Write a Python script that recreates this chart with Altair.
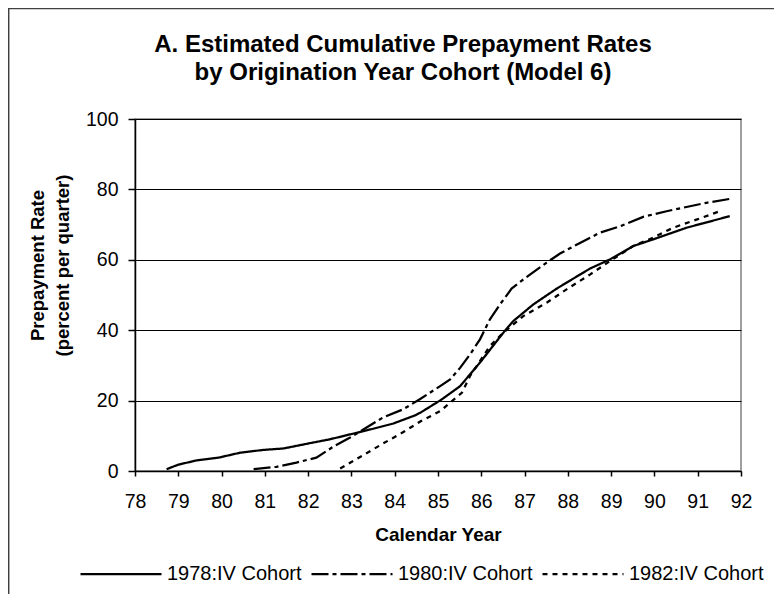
import altair as alt
import pandas as pd

FONT = "Liberation Sans"

title_lines = ["A. Estimated Cumulative Prepayment Rates", "by Origination Year Cohort (Model 6)"]
cohorts = ["1978:IV Cohort", "1980:IV Cohort", "1982:IV Cohort"]

years_1978 = [78.73, 79.0, 79.42, 79.93, 80.43, 80.97, 81.43, 82.04, 82.5, 82.97, 83.5,
              83.97, 84.47, 84.61, 85.07, 85.51, 85.97, 86.51, 86.74, 87.2, 87.74, 88.51,
              88.97, 89.51, 89.97, 90.74, 91.74]
rate_1978 = [0.5, 1.8, 3.0, 3.8, 5.2, 6.0, 6.4, 7.9, 9.0, 10.4, 12.0,
             13.5, 15.8, 16.7, 20.2, 24.1, 30.8, 39.3, 42.6, 47.3, 51.8, 57.5,
             60.1, 63.9, 65.8, 69.1, 72.4]

years_1980 = [80.74, 81.27, 81.73, 82.19, 82.58, 82.97, 83.34, 83.73, 84.19, 84.58, 85.05,
              85.28, 85.51, 85.74, 85.97, 86.2, 86.43, 86.7, 86.97, 87.51, 87.82, 88.28,
              88.74, 89.2, 89.74, 90.28, 90.74, 91.2, 91.74]
rate_1980 = [0.5, 1.2, 2.4, 3.8, 6.9, 9.5, 12.3, 15.2, 17.5, 20.4, 24.1,
             26.0, 29.3, 33.1, 37.4, 43.1, 47.3, 51.8, 54.4, 59.2, 61.8, 64.8,
             67.7, 69.5, 72.2, 73.8, 75.0, 76.2, 77.3]

years_1982 = [82.74, 83.27, 83.73, 84.19, 84.61, 85.05, 85.28, 85.55, 85.74, 86.2, 86.51,
              86.97, 87.51, 87.97, 88.51, 88.97, 89.51, 89.97, 90.43, 90.97, 91.51]
rate_1982 = [0.7, 4.5, 7.8, 11.0, 14.2, 17.0, 19.4, 22.2, 27.0, 35.5, 39.3,
             44.0, 47.8, 51.6, 55.8, 59.6, 63.9, 66.3, 69.1, 71.4, 73.8]

x_ticks = list(range(78, 93))
y_ticks = [0, 20, 40, 60, 80, 100]

rows = []
for name, ys, vs in zip(cohorts, [years_1978, years_1980, years_1982],
                        [rate_1978, rate_1980, rate_1982]):
    for y, v in zip(ys, vs):
        rows.append({"cohort": name, "year": y, "rate": v})
df = pd.DataFrame(rows)

lines = alt.Chart(df).mark_line(strokeWidth=2.25, color="black").encode(
    x=alt.X("year:Q",
            scale=alt.Scale(domain=[78, 92], nice=False),
            axis=alt.Axis(values=x_ticks, format="d", title="Calendar Year",
                          grid=False, tickSize=5, tickColor="black", tickWidth=1.5,
                          domainColor="black", domainWidth=1.5,
                          labelFont=FONT, labelFontSize=19.5, labelColor="black",
                          labelPadding=16, labelFlush=False,
                          titleFont=FONT, titleFontSize=19, titleFontWeight="bold",
                          titleColor="black", titleBaseline="top", titleY=54)),
    y=alt.Y("rate:Q",
            scale=alt.Scale(domain=[0, 100], nice=False),
            axis=alt.Axis(values=y_ticks, title=["Prepayment Rate", "(percent per quarter)"],
                          grid=True, gridColor="black", gridWidth=1,
                          tickSize=7, tickColor="black", tickWidth=1.5,
                          domainColor="black", domainWidth=1.5,
                          labelFont=FONT, labelFontSize=19.5, labelColor="black",
                          labelPadding=10,
                          titleFont=FONT, titleFontSize=18.5, titleFontWeight="bold",
                          titleColor="black", titleAngle=270, titleBaseline="top",
                          titleAlign="center", titleLineHeight=25,
                          titleX=-107, titleY=146)),
    strokeDash=alt.StrokeDash(
        "cohort:N",
        scale=alt.Scale(domain=cohorts, range=[[1, 0], [17, 4, 4, 4], [5, 5]]),
        legend=alt.Legend(orient="none", legendX=-56, legendY=413,
                          direction="horizontal", title=None,
                          symbolType="stroke", symbolSize=6561,
                          symbolStrokeWidth=2.25, symbolStrokeColor="black",
                          labelFont=FONT, labelFontSize=20, labelColor="black",
                          labelOffset=4, columnPadding=5)),
)

title = alt.Chart(pd.DataFrame({"k": [0]})).mark_text(
    text=title_lines, font=FONT, fontSize=24, fontWeight="bold", color="black",
    align="center", baseline="alphabetic", lineHeight=28).encode(
    x=alt.value(268), y=alt.value(-67.5))

frame_left = alt.Chart(pd.DataFrame({"k": [0]})).mark_rule(
    color="#404040", strokeWidth=1.5).encode(
    x=alt.value(-126.3), y=alt.value(-111), y2=alt.value(480))
frame_top = alt.Chart(pd.DataFrame({"k": [0]})).mark_rule(
    color="#404040", strokeWidth=1.5).encode(
    x=alt.value(-127), x2=alt.value(650), y=alt.value(-110.5))

chart = alt.layer(lines, title, frame_left, frame_top).properties(
    width=606, height=352,
    autosize=alt.AutoSizeParams(type="none"),
    padding={"left": 127, "top": 111, "right": 33, "bottom": 123},
).configure_view(stroke="#808080", strokeWidth=1.5)

chart.save("out.html", embed_options={"renderer": "svg", "actions": False})
